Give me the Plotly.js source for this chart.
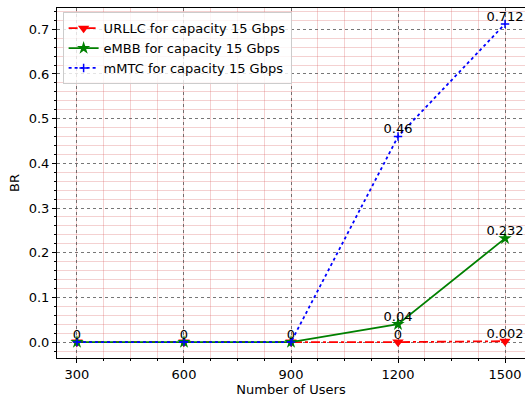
<!DOCTYPE html>
<html>
<head>
<meta charset="utf-8">
<script src="https://cdn.plot.ly/plotly-3.0.1.min.js"></script>
<style>html,body{margin:0;padding:0;background:#fff;}</style>
</head>
<body>
<div id="chart" style="width:525px;height:402px;"></div>
<script>
const users = [300, 600, 900, 1200, 1500];
const urllc = [0, 0, 0, 0, 0.002];
const embb = [0, 0, 0, 0.04, 0.232];
const mmtc = [0, 0, 0, 0.46, 0.712];
const urllcLabels = ['0', '0', '0', '0', '0.002'];
const embbLabels = ['', '', '', '0.04', '0.232'];
const mmtcLabels = ['', '', '', '0.46', '0.712'];
const tickVals = [300, 600, 900, 1200, 1500];
const tickText = ['300', '600', '900', '1200', '1500'];

const font = {family: 'DejaVu Sans, sans-serif', size: 13, color: '#000'};

const traces = [
  {x: users, y: urllc, name: 'URLLC for capacity 15 Gbps', mode: 'lines+markers',
   line: {color: 'red', width: 1.8, dash: 'dashdot'},
   marker: {symbol: 'triangle-down', size: 10, color: 'red'}},
  {x: users, y: embb, name: 'eMBB for capacity 15 Gbps', mode: 'lines+markers',
   line: {color: 'green', width: 1.8},
   marker: {symbol: 'star', size: 10, color: 'green'}},
  {x: users, y: mmtc, name: 'mMTC for capacity 15 Gbps', mode: 'lines+markers',
   line: {color: 'blue', width: 1.8, dash: 'dot'},
   marker: {symbol: 'cross-thin', size: 6, line: {color: 'blue', width: 1.5}, color: 'blue'}},
  {x: users, y: urllc, text: urllcLabels, mode: 'text', textposition: 'top center',
   textfont: font, showlegend: false, hoverinfo: 'skip'},
  {x: users, y: embb, text: embbLabels, mode: 'text', textposition: 'top center',
   textfont: font, showlegend: false, hoverinfo: 'skip'},
  {x: users, y: mmtc, text: mmtcLabels, mode: 'text', textposition: 'top center',
   textfont: font, showlegend: false, hoverinfo: 'skip'}
];

const minorGrid = 'rgba(215,90,90,0.28)';
const layout = {
  width: 525, height: 402,
  margin: {l: 57, r: 0, t: 8, b: 44},
  paper_bgcolor: '#fff', plot_bgcolor: '#fff',
  font: font,
  showlegend: true,
  legend: {x: 0.012, y: 0.988, xanchor: 'left', yanchor: 'top',
           bgcolor: 'rgba(255,255,255,0.8)', bordercolor: '#cccccc', borderwidth: 1,
           font: font, tracegroupgap: 0},
  xaxis: {
    range: [244, 1556], tickvals: tickVals, ticktext: tickText,
    showline: true, linecolor: '#000', linewidth: 1, mirror: true,
    ticks: 'outside', ticklen: 4, tickcolor: '#000',
    showgrid: true, gridcolor: '#555', griddash: 'dot', gridwidth: 0.8,
    zeroline: false,
    minor: {dtick: 75, tick0: 300, ticks: 'outside', ticklen: 2, tickcolor: '#000',
            showgrid: true, gridcolor: minorGrid, gridwidth: 1, griddash: 'solid'},
    title: {text: 'Number of Users', font: font, standoff: 4},
    tickfont: font
  },
  yaxis: {
    range: [-0.0356, 0.7476], dtick: 0.1, tick0: 0, tickformat: '.1f',
    showline: true, linecolor: '#000', linewidth: 1,
    ticks: 'outside', ticklen: 4, tickcolor: '#000',
    showgrid: true, gridcolor: '#555', griddash: 'dot', gridwidth: 0.8,
    zeroline: false,
    minor: {dtick: 0.02, tick0: 0, ticks: 'outside', ticklen: 2, tickcolor: '#000',
            showgrid: true, gridcolor: minorGrid, gridwidth: 1, griddash: 'solid'},
    title: {text: 'BR', font: font, standoff: 6},
    tickfont: font
  }
};

Plotly.newPlot('chart', traces, layout, {displayModeBar: false, staticPlot: true});
</script>
</body>
</html>
